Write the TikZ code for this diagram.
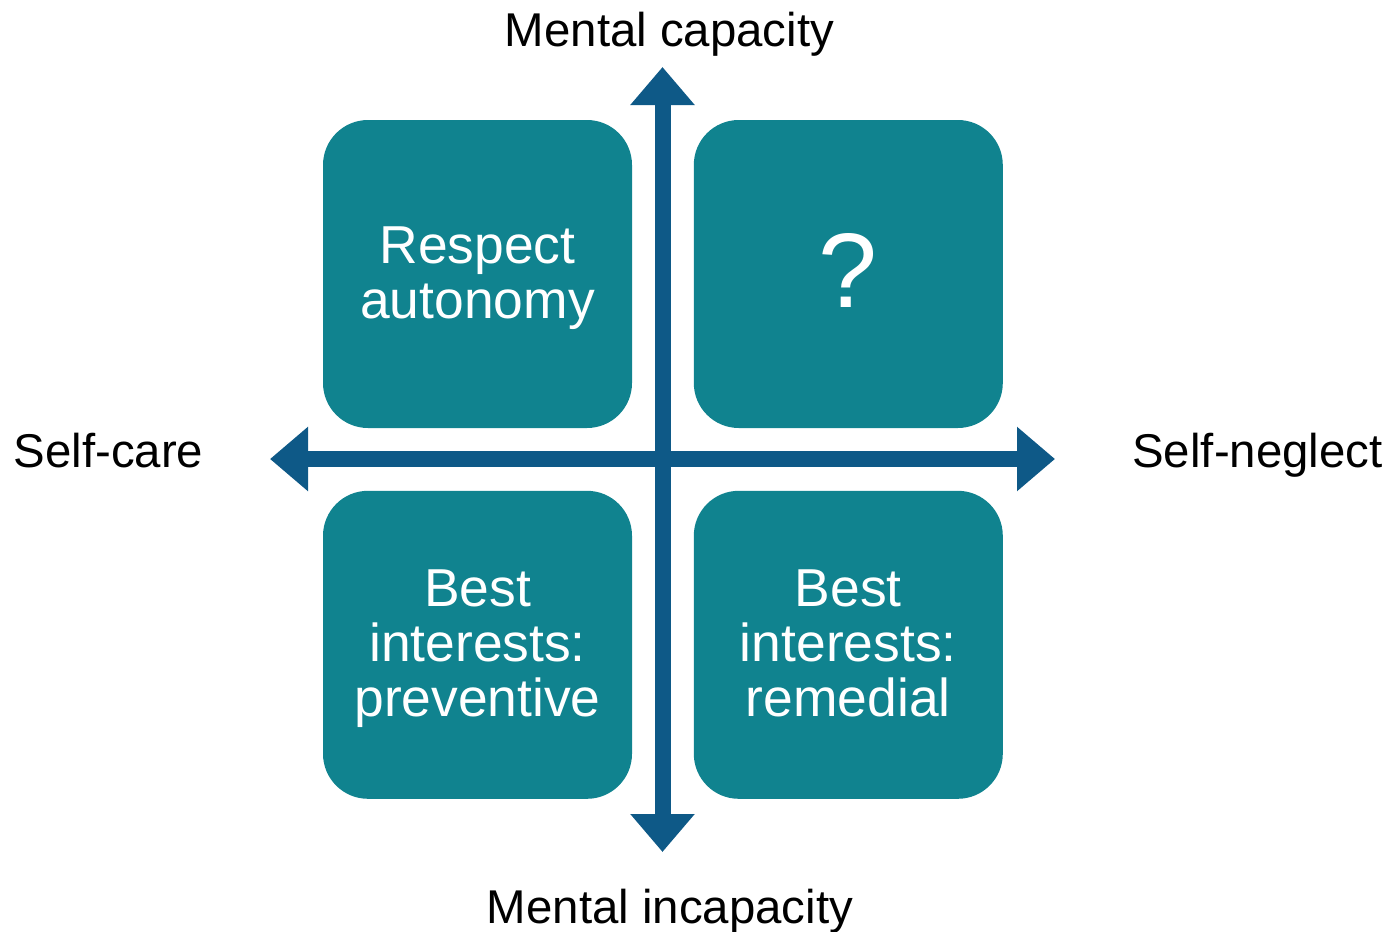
\documentclass[tikz,border=0pt]{standalone}
\usepackage{fontspec}
\setmainfont{Liberation Sans}
\usepackage{xcolor}
\definecolor{quadteal}{RGB}{16,131,143}
\definecolor{axisblue}{RGB}{14,89,135}
\usepackage{tikz}
\usetikzlibrary{positioning}
\usetikzlibrary{arrows.meta}
\newcommand{\qtop}{\rule{0pt}{22.2pt}}
\newcommand{\qbot}{\rule[-5.7pt]{0pt}{5.7pt}}

\begin{document}
\begin{tikzpicture}[x=0.5pt,y=-0.5pt,
  quad/.style={shape=rectangle,rounded corners=22.5pt,fill=quadteal,text=white,minimum width=154.5pt,minimum height=154pt,align=center,inner sep=0pt,font=\fontsize{26.7}{27.5}\selectfont},
  axislabel/.style={anchor=base,inner sep=0pt,font=\fontsize{23.7}{27}\selectfont},
  axis/.style={axisblue,line width=8pt,{Triangle[length=19pt,width=31pt]}-{Triangle[length=19pt,width=31pt]}}]
\useasboundingbox (0,0) rectangle (1393,932);
\node[quad] (respect) at (477.5,274) {\qtop Respect\\autonomy\qbot};
\node[quad,right=30.5pt of respect,text height=39pt,text depth=6pt] (unknown) {\fontsize{53}{60}\selectfont ?};
\node[quad,below=31pt of respect] (preventive) {\qtop Best\\interests:\\preventive\qbot};
\node[quad,below=31pt of unknown] (remedial) {\qtop Best\\interests:\\remedial\qbot};
\coordinate (capacity) at (662.5,67);
\coordinate (incapacity) at (662.5,852);
\coordinate (care) at (270,459);
\coordinate (neglect) at (1055,459);
\draw[axis] (capacity) -- (incapacity);
\draw[axis] (care) -- (neglect);
\node[axislabel] (capacitylabel) at (669.5,46) {Mental capacity};
\node[axislabel] (incapacitylabel) at (670,923) {Mental incapacity};
\node[axislabel] (carelabel) at (108.5,467) {Self-care};
\node[axislabel] (neglectlabel) at (1257.5,467) {Self-neglect};
\end{tikzpicture}
\end{document}
